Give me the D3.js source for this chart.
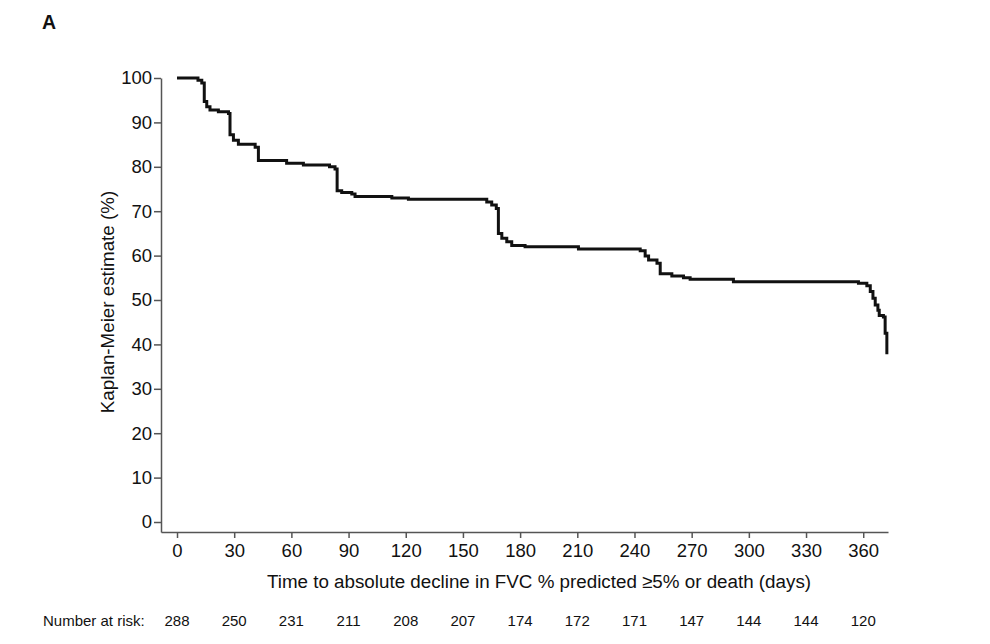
<!DOCTYPE html>
<html>
<head>
<meta charset="utf-8">
<script src="https://cdn.jsdelivr.net/npm/d3@7"></script>
<style>
  body { margin: 0; background: #fff; }
  svg text { font-family: "Liberation Sans", Arial, sans-serif; fill: #111; }
  .axis path, .axis line { stroke: #555; stroke-width: 1.5; }
</style>
</head>
<body>
<div id="chart"></div>
<script>
// KM curve: event time (days) and survival after the step (%)
const kmTime = [0, 11, 13, 14.3, 15.6, 17.3, 21.7, 27, 27.8, 29.6, 32.2, 41, 42.7, 57.5, 66.3,
  80, 82.9, 84, 86.4, 91.7, 93.4, 112.7, 121.4, 162.5, 165.1, 167.5, 168.6, 170.4, 173,
  175.6, 182.6, 210.6, 243, 245.6, 247.4, 251.8, 253.5, 259.6, 265.7, 269.2, 291.9,
  357.5, 361.9, 363.7, 365.1, 366.3, 367.7, 368.4, 370.6, 371.5, 372.4];
const kmSurv = [100, 99.5, 98.9, 94.7, 93.5, 92.8, 92.4, 92.0, 87.2, 86.0, 85.1, 84.4, 81.4, 80.8, 80.4,
  80.0, 79.5, 74.6, 74.2, 73.9, 73.3, 73.0, 72.7, 72.1, 71.4, 70.6, 65.0, 63.9, 63.1,
  62.3, 62.0, 61.5, 61.1, 59.9, 59.0, 58.3, 55.9, 55.4, 55.0, 54.7, 54.1,
  53.8, 53.2, 51.9, 50.4, 48.9, 47.7, 46.5, 46.2, 42.5, 37.8];

const xTicks = [0, 30, 60, 90, 120, 150, 180, 210, 240, 270, 300, 330, 360];
const yTicks = [0, 10, 20, 30, 40, 50, 60, 70, 80, 90, 100];
const atRisk = [288, 250, 231, 211, 208, 207, 174, 172, 171, 147, 144, 144, 120];

const width = 990, height = 644;

const svg = d3.select("#chart")
  .append("svg")
  .attr("width", width)
  .attr("height", height);

const x = d3.scaleLinear().domain([-8.4, 373]).range([161, 888]);
const y = d3.scaleLinear().domain([-2.25, 100]).range([532, 78]);

// axes
svg.append("g")
  .attr("class", "axis")
  .attr("transform", "translate(0,532)")
  .call(d3.axisBottom(x).tickValues(xTicks).tickSize(6).tickSizeOuter(0).tickPadding(6))
  .call(g => g.selectAll("text").style("font-size", "18.5px"));

svg.append("g")
  .attr("class", "axis")
  .attr("transform", "translate(161,0)")
  .call(d3.axisLeft(y).tickValues(yTicks).tickSize(7).tickSizeOuter(0).tickPadding(2))
  .call(g => g.selectAll("text").style("font-size", "18.5px"));

svg.selectAll(".axis text").style("font-family", "Liberation Sans, Arial, sans-serif").attr("fill", "#111");

// the curve
const pts = kmTime.map((t, i) => [t, kmSurv[i]]);
const line = d3.line()
  .x(d => x(d[0]))
  .y(d => y(d[1]))
  .curve(d3.curveStepAfter);

svg.append("path")
  .datum(pts)
  .attr("d", line)
  .attr("fill", "none")
  .attr("stroke", "#111")
  .attr("stroke-width", 3);

// labels
svg.append("text")
  .attr("x", 539)
  .attr("y", 588)
  .attr("text-anchor", "middle")
  .style("font-size", "18.8px")
  .text("Time to absolute decline in FVC % predicted ≥5% or death (days)");

svg.append("text")
  .attr("transform", "translate(114,302) rotate(-90)")
  .attr("text-anchor", "middle")
  .style("font-size", "18.8px")
  .text("Kaplan-Meier estimate (%)");

svg.append("text")
  .attr("x", 42)
  .attr("y", 29)
  .style("font-size", "19.5px")
  .style("font-weight", "bold")
  .text("A");

// number at risk row
svg.append("text")
  .attr("x", 43)
  .attr("y", 626)
  .style("font-size", "15px")
  .text("Number at risk:");

svg.append("g")
  .selectAll("text")
  .data(atRisk)
  .join("text")
  .attr("x", (d, i) => x(xTicks[i]))
  .attr("y", 626)
  .attr("text-anchor", "middle")
  .style("font-size", "15px")
  .text(d => d);
</script>
</body>
</html>
